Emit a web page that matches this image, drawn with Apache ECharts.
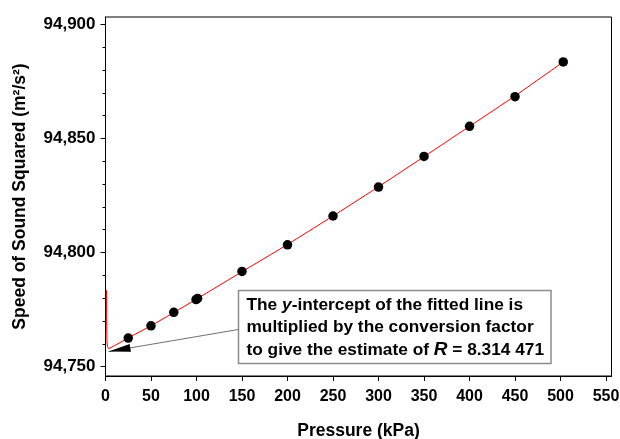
<!DOCTYPE html>
<html>
<head>
<meta charset="utf-8">
<script src="https://cdn.jsdelivr.net/npm/echarts@6/dist/echarts.min.js"></script>
<style>
html,body{margin:0;padding:0;background:#fff;overflow:hidden;}
#c{width:620px;height:439px;}
</style>
</head>
<body>
<div id="c"></div>
<script>
// Measured data (pressure in kPa, speed of sound squared in m^2/s^2)
var pressure = [25, 50, 75, 99.5, 101.2, 150, 200, 250, 300, 350, 400, 450, 503];
var speedSq  = [94762.5, 94767.9, 94773.8, 94779.4, 94779.9, 94791.7, 94803.4, 94816.0, 94828.7, 94842.1, 94855.3, 94868.3, 94883.5];

// Fitted curve (passes through the points)
var fitP = [1.1, 1.3, 1.6, 2.2, 3.5, 10, 25, 50, 75, 100, 150, 200, 250, 300, 350, 400, 450, 503];
var fitV = [94783.5, 94768, 94761, 94758.8, 94757.9, 94759.2, 94762.6, 94767.9, 94773.7, 94779.6, 94791.6, 94803.5, 94816.0, 94828.8, 94842.0, 94855.3, 94868.6, 94883.5];

// Axis ticks
var xTicks = [0, 50, 100, 150, 200, 250, 300, 350, 400, 450, 500, 550];
var yTicks = [94750, 94800, 94850, 94900];
var yMinorTicks = [94760, 94770, 94780, 94790, 94810, 94820, 94830, 94840, 94860, 94870, 94880, 94890];

// Annotation arrow (tip, end at box edge)
var arrowTip = [3.3, 94756.6];
var arrowHeadCenter = [15.3, 94757.4];
var arrowEnd = [146.3, 94766.3];

var annotationLines = [
  'The {i|y}-intercept of the fitted line is',
  'multiplied by the conversion factor',
  'to give the estimate of {r|R} = 8.314 471'
];

var FONT = 'Arial, "Liberation Sans", sans-serif';

function fmt(v){ return String(Math.round(v)).replace(/\B(?=(\d{3})+(?!\d))/g, ','); }

var points = pressure.map(function(p,i){ return [p, speedSq[i]]; });
var fit = fitP.map(function(p,i){ return [p, fitV[i]]; });

var chart = echarts.init(document.getElementById('c'), null, {renderer:'canvas'});
var titleTxt = {fontFamily: FONT, fontWeight: 'bold', fontSize: 17.5, color: '#000'};

chart.setOption({
  backgroundColor: '#fff',
  animation: false,
  grid: {left: 105.5, right: 8.5, top: 17, bottom: 63, show: true, borderColor: '#000', borderWidth: 1,
         backgroundColor: 'transparent', containLabel: false, outerBoundsMode: 'none'},
  xAxis: [{
    type: 'value', min: 0, max: 556,
    axisLine: {show: true, onZero: false, lineStyle: {color: '#000', width: 1}},
    axisTick: {show: true, inside: false, length: 5, customValues: xTicks, lineStyle: {color: '#000'}},
    axisLabel: {customValues: xTicks, margin: 13, fontFamily: FONT, fontWeight: 'bold', fontSize: 16, color: '#000'},
    splitLine: {show: false},
    name: 'Pressure (kPa)', nameLocation: 'middle', nameGap: 46,
    nameTextStyle: titleTxt
  }],
  yAxis: [{
    type: 'value', min: 94745.9, max: 94903.2,
    axisLine: {show: true, onZero: false, lineStyle: {color: '#000', width: 1}},
    axisTick: {show: true, inside: false, length: 5, customValues: yTicks, lineStyle: {color: '#000'}},
    axisLabel: {customValues: yTicks, margin: 10, formatter: fmt, fontFamily: FONT, fontWeight: 'bold', fontSize: 17, color: '#000'},
    splitLine: {show: false},
    name: 'Speed of Sound Squared (m²/s²)', nameLocation: 'middle', nameRotate: 90, nameGap: 76,
    nameTextStyle: titleTxt
  }, {
    type: 'value', min: 94745.9, max: 94903.2, position: 'left',
    axisLine: {show: false},
    axisTick: {show: true, inside: false, length: 3, customValues: yMinorTicks, lineStyle: {color: '#000'}},
    axisLabel: {show: false},
    splitLine: {show: false}
  }],
  series: [{
    type: 'line', data: fit, showSymbol: false, symbol: 'none', smooth: false,
    lineStyle: {color: '#ff0000', width: 1}, z: 2,
    markLine: {
      silent: true, animation: false,
      label: {show: false},
      data: [
        [{coord: arrowTip, symbol: 'none', lineStyle: {color: '#707070', width: 1, type: 'solid'}},
         {coord: arrowEnd, symbol: 'none'}],
        [{coord: arrowHeadCenter, symbol: 'triangle', symbolSize: [8, 22], lineStyle: {color: '#000', width: 0, type: 'solid'}},
         {coord: arrowEnd, symbol: 'none'}]
      ]
    }
  }, {
    type: 'scatter', data: points, symbol: 'circle', symbolSize: 9.5,
    itemStyle: {color: '#000', opacity: 1}, z: 3
  }],
  graphic: [{
    type: 'group', z: 100,
    children: [{
      type: 'rect', shape: {x: 238.5, y: 290.5, width: 312.5, height: 73},
      style: {fill: '#fff', stroke: '#8c8c8c', lineWidth: 1.5}
    }, {
      type: 'text', x: 246.5, y: 293.5,
      style: {
        text: annotationLines.join('\n'),
        font: 'bold 17.3px ' + FONT,
        fill: '#000', lineHeight: 22.5,
        rich: {
          i: {fontStyle: 'italic', fontWeight: 'bold', fontSize: 17.3, fontFamily: FONT, fill: '#000', lineHeight: 22.5},
          r: {fontStyle: 'italic', fontWeight: 'bold', fontSize: 19, fontFamily: FONT, fill: '#000', lineHeight: 22.5}
        }
      }
    }]
  }]
});
</script>
</body>
</html>
